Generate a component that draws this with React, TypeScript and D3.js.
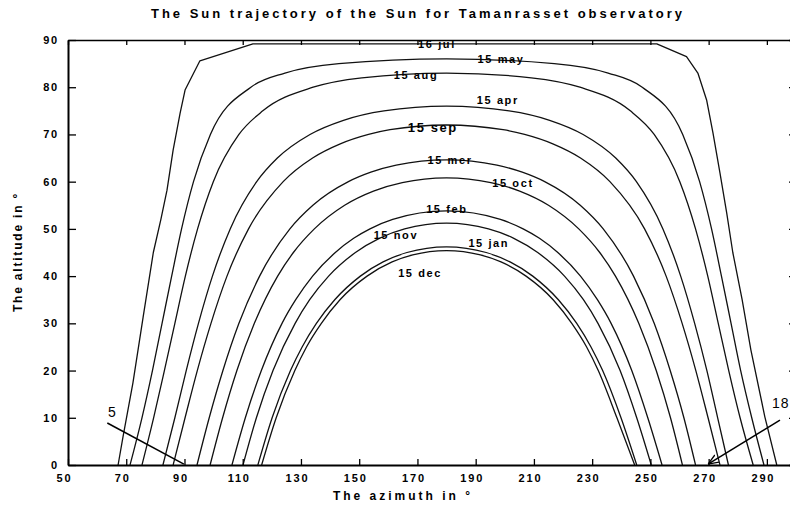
import React, { useEffect, useRef } from 'react';
import * as d3 from 'd3';

type Pt = [number, number];

const W = 790;
const H = 507;
const margin = { top: 40, left: 68, bottom: 42, right: -6 };

const title = 'The Sun trajectory of the Sun for Tamanrasset observatory';
const xTitle = 'The azimuth in °';
const yTitle = 'The altitude in °';

const xTicks = [50, 70, 90, 110, 130, 150, 170, 190, 210, 230, 250, 270, 290];
const yTicks = [0, 10, 20, 30, 40, 50, 60, 70, 80, 90];

// [azimuth, altitude]
const jul16: Pt[] = [[67.2, 0], [68.9, 6], [72.3, 17.4], [75.8, 31.3], [79.3, 45], [81.9, 52], [84, 58.2], [86.1, 66.7], [88.5, 74.5], [90.2, 79.4], [95.3, 85.6], [113.5, 89.2], [252.2, 89.2], [262.4, 86.5], [266.3, 83], [269.3, 77.3], [271.5, 70.3], [273.9, 61.8], [276.2, 53.4], [278.3, 45], [281.5, 35], [284.5, 24.4], [289.3, 10.2], [293.4, 0]];
const may15: Pt[] = [[71.3, 0], [75.4, 10], [79, 20], [82.3, 30], [85.6, 40], [89, 50], [93.1, 60], [98.9, 70], [112.8, 80], [124.5, 83], [143, 85], [180, 86], [217, 85], [235.5, 83], [247.2, 80], [261.1, 70], [266.9, 60], [271, 50], [274.4, 40], [277.7, 30], [281, 20], [284.8, 10], [289, 0]];
const aug15: Pt[] = [[75.4, 0], [79.4, 10], [83.1, 20], [86.7, 30], [90.3, 40], [94.5, 50], [99.9, 60], [108.7, 70], [116.9, 75], [134.2, 80], [150.9, 82], [180, 83], [209.1, 82], [225.8, 80], [243.1, 75], [251.3, 70], [260.1, 60], [265.5, 50], [269.7, 40], [273.3, 30], [276.9, 20], [280.8, 10], [285.3, 0]];
const apr15: Pt[] = [[82.6, 0], [86.7, 10], [90.6, 20], [94.8, 30], [99.6, 40], [105.7, 50], [114.8, 60], [121.9, 65], [133.1, 70], [144.6, 73], [158.5, 75], [180, 76], [201.5, 75], [215.4, 73], [226.9, 70], [238.1, 65], [245.2, 60], [254.3, 50], [260.4, 40], [265.2, 30], [269.4, 20], [273.1, 10], [276.8, 0]];
const sep15: Pt[] = [[86.1, 0], [90.2, 10], [94.4, 20], [99.1, 30], [104.6, 40], [112, 50], [123.9, 60], [134, 65], [143.5, 68], [153.2, 70], [160.6, 71], [180, 72], [199.4, 71], [206.8, 70], [216.5, 68], [226, 65], [236.1, 60], [248, 50], [255.4, 40], [260.9, 30], [265.6, 20], [269.8, 10], [273.9, 0]];
const mar15: Pt[] = [[94.3, 0], [98.5, 10], [103.2, 20], [108.7, 30], [115.8, 40], [126.2, 50], [134.1, 55], [146.3, 60], [154, 62], [162.7, 63.5], [180, 64.6], [197.3, 63.5], [206, 62], [213.7, 60], [225.9, 55], [233.8, 50], [244.2, 40], [251.3, 30], [256.8, 20], [261.5, 10], [265.5, 0]];
const oct15: Pt[] = [[98.8, 0], [103.1, 10], [108, 20], [114, 30], [122, 40], [127.4, 45], [134.6, 50], [145, 55], [154.9, 58], [164.8, 59.8], [180, 60.8], [195.2, 59.8], [205.1, 58], [215, 55], [225.4, 50], [232.6, 45], [238, 40], [246, 30], [252, 20], [256.9, 10], [261, 0]];
const feb15: Pt[] = [[106.3, 0], [110.9, 10], [116.4, 20], [123.5, 30], [128.2, 35], [134, 40], [141.8, 45], [148.1, 48], [153.7, 50], [161.5, 52], [180, 53.8], [198.5, 52], [206.3, 50], [211.9, 48], [218.2, 45], [226, 40], [231.8, 35], [236.5, 30], [243.6, 20], [249.1, 10], [254, 0]];
const nov15: Pt[] = [[110.1, 0], [114.7, 10], [120.4, 20], [128, 30], [133, 35], [139.5, 40], [148.7, 45], [156.9, 48], [165.6, 50], [180, 51.2], [194.4, 50], [203.1, 48], [211.3, 45], [220.5, 40], [227, 35], [232, 30], [239.6, 20], [245.3, 10], [250.3, 0]];
const jan15: Pt[] = [[115.2, 0], [120.1, 10], [126.4, 20], [130.4, 25], [135.3, 30], [141.6, 35], [150.4, 40], [158.2, 43], [166.4, 45], [180, 46.2], [193.6, 45], [201.8, 43], [209.6, 40], [218.4, 35], [224.7, 30], [229.6, 25], [233.6, 20], [239.9, 10], [245.3, 0]];
const dec15: Pt[] = [[116.5, 0], [121.5, 10], [127.9, 20], [131.9, 25], [137, 30], [143.4, 35], [152.7, 40], [161.3, 43], [168.4, 44.5], [180, 45.4], [191.6, 44.5], [198.7, 43], [207.3, 40], [216.6, 35], [223, 30], [228.1, 25], [232.1, 20], [238.5, 10], [244.6, 0]];

const curves = [jul16, may15, aug15, apr15, sep15, mar15, oct15, feb15, nov15, jan15, dec15];

const monthLabels = ['16 jul', '15 may', '15 aug', '15 apr', '15 sep', '15 mer', '15 oct', '15 feb', '15 nov', '15 jan', '15 dec'];
const labelAz = [176.7, 198.7, 169.5, 197.6, 175.3, 181.2, 202.8, 180.1, 162.6, 194.5, 170.9];
const labelAlt = [89.2, 86.0, 82.6, 77.3, 71.4, 64.6, 59.7, 54.2, 48.7, 47.0, 40.7];

// sunrise / sunset hour marks
const hourText = ['5', '18'];
const hourTextAt: Pt[] = [[65.1, 11.2], [297.8, 13.2]];
const hourFrom: Pt[] = [[63.5, 8.9], [294.5, 9.5]];
const hourTo: Pt[] = [[89.8, 0.2], [269.8, 0.2]];

const FONT = '"Liberation Sans", Arial, Helvetica, sans-serif';

export default function App() {
  const ref = useRef<SVGSVGElement>(null);

  useEffect(() => {
    const svg = d3.select(ref.current);
    svg.selectAll('*').remove();

    const x = d3.scaleLinear().domain([50, 300]).range([margin.left, W - margin.right]);
    const y = d3.scaleLinear().domain([0, 90]).range([H - margin.bottom, margin.top]);

    svg.append('rect').attr('width', W).attr('height', H).attr('fill', '#fff');

    const defs = svg.append('defs');
    defs
      .append('marker')
      .attr('id', 'arr')
      .attr('viewBox', '0 0 10 10')
      .attr('refX', 10)
      .attr('refY', 5)
      .attr('markerWidth', 7)
      .attr('markerHeight', 7)
      .attr('orient', 'auto')
      .append('path')
      .attr('d', 'M0,1 L10,5 L0,9')
      .attr('fill', 'none')
      .attr('stroke', '#000')
      .attr('stroke-width', 1.2);

    // curves
    const line = d3
      .line<Pt>()
      .x(d => x(d[0]))
      .y(d => y(d[1]));

    svg
      .append('g')
      .selectAll('path')
      .data(curves)
      .enter()
      .append('path')
      .attr('d', (d, i) => line.curve(i === 0 ? d3.curveLinear : d3.curveMonotoneX)(d))
      .attr('fill', 'none')
      .attr('stroke', '#111')
      .attr('stroke-width', 1.3)
      .attr('stroke-linejoin', 'round');

    // month labels
    svg
      .append('g')
      .selectAll('text')
      .data(monthLabels)
      .enter()
      .append('text')
      .attr('x', (d, i) => x(labelAz[i]))
      .attr('y', (d, i) => y(labelAlt[i]))
      .attr('dy', '0.35em')
      .attr('text-anchor', 'middle')
      .style('font-family', FONT)
      .style('font-weight', 'bold')
      .style('font-size', (d, i) => (i === 4 ? '13px' : '11px'))
      .style('letter-spacing', '1.6px')
      .text(d => d);

    // hour annotations
    hourText.forEach((t, i) => {
      svg
        .append('line')
        .attr('x1', x(hourFrom[i][0]))
        .attr('y1', y(hourFrom[i][1]))
        .attr('x2', x(hourTo[i][0]))
        .attr('y2', y(hourTo[i][1]))
        .attr('stroke', '#000')
        .attr('stroke-width', 1.5)
        .attr('marker-end', i === 1 ? 'url(#arr)' : null);
      svg
        .append('text')
        .attr('x', x(hourTextAt[i][0]))
        .attr('y', y(hourTextAt[i][1]))
        .attr('dy', '0.35em')
        .attr('text-anchor', i === 0 ? 'middle' : 'end')
        .style('font-family', FONT)
        .style('font-size', '14px')
        .style('letter-spacing', i === 0 ? '0px' : '1px')
        .text(t);
    });

    // axes
    const styleAxis = g => {
      g.select('.domain').attr('stroke', '#000').attr('stroke-width', 2);
      g.selectAll('.tick line').attr('stroke', '#000').attr('stroke-width', 1.3);
      g.selectAll('text')
        .attr('fill', '#000')
        .style('font-family', FONT)
        .style('font-weight', 'bold')
        .style('font-size', '11px')
        .style('letter-spacing', '1.8px');
    };

    svg
      .append('g')
      .attr('transform', `translate(0,${y(90)})`)
      .call(d3.axisTop(x).tickValues(xTicks).tickSize(-5).tickSizeOuter(0).tickFormat(() => ''))
      .call(styleAxis)
      .call(g => g.select('.domain').attr('stroke-width', 1.6));

    svg
      .append('g')
      .attr('transform', `translate(${x(300)},0)`)
      .call(d3.axisRight(y).tickValues(yTicks).tickSize(-7).tickSizeOuter(0).tickFormat(() => ''))
      .call(styleAxis);

    svg
      .append('g')
      .attr('transform', `translate(0,${y(0)})`)
      .call(d3.axisBottom(x).tickValues(xTicks).tickSize(-6).tickSizeOuter(0).tickPadding(9))
      .call(styleAxis)
      .call(g => g.selectAll('text').attr('dx', -4));

    svg
      .append('g')
      .attr('transform', `translate(${x(50)},0)`)
      .call(d3.axisLeft(y).tickValues(yTicks).tickSize(-8).tickSizeOuter(0).tickPadding(9))
      .call(styleAxis);

    // titles
    svg
      .append('text')
      .attr('x', 418)
      .attr('y', 18)
      .attr('text-anchor', 'middle')
      .style('font-family', FONT)
      .style('font-weight', 'bold')
      .style('font-size', '13px')
      .style('letter-spacing', '3px')
      .text(title);

    svg
      .append('text')
      .attr('x', 403)
      .attr('y', 500)
      .attr('text-anchor', 'middle')
      .style('font-family', FONT)
      .style('font-weight', 'bold')
      .style('font-size', '12px')
      .style('letter-spacing', '3px')
      .text(xTitle);

    svg
      .append('text')
      .attr('transform', 'translate(22,252) rotate(-90)')
      .attr('text-anchor', 'middle')
      .style('font-family', FONT)
      .style('font-weight', 'bold')
      .style('font-size', '12px')
      .style('letter-spacing', '1.8px')
      .text(yTitle);
  }, []);

  return (
    <svg
      ref={ref}
      width={W}
      height={H}
      style={{ position: 'absolute', left: 0, top: 0, display: 'block' }}
    />
  );
}
